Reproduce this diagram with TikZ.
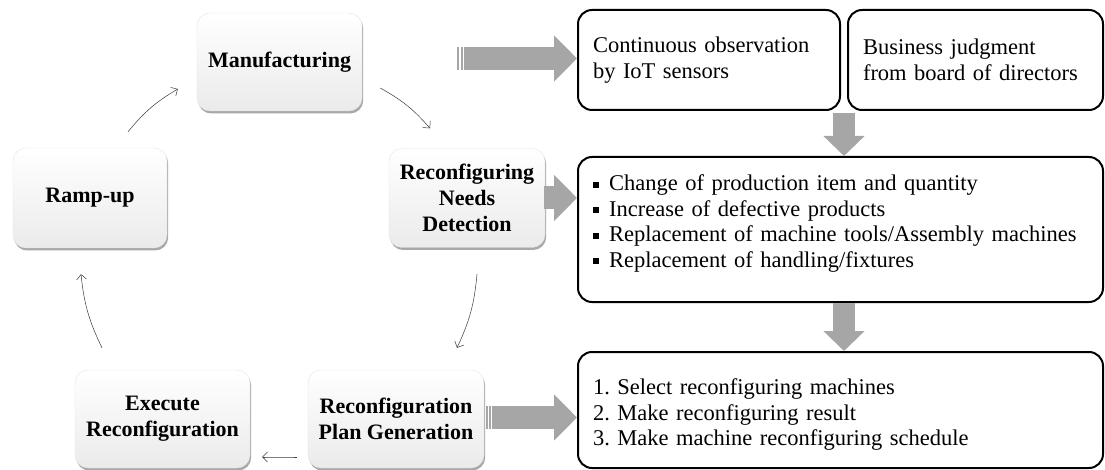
\documentclass[tikz,border=0pt]{standalone}
\usepackage{fontspec}
\setmainfont{Liberation Serif}
\usetikzlibrary{shadows,arrows.meta,calc}
\frenchspacing

\begin{document}
\begin{tikzpicture}[x=1pt,y=-1pt,
  cyc/.style={rounded corners=13pt, draw=gray!22, line width=0.4pt,
    top color=white, bottom color=gray!16,
    drop shadow={shadow xshift=1.2pt, shadow yshift=-2.5pt, opacity=0.55, fill=gray!75!black},
    align=center, inner sep=0pt,
    font=\fontsize{22}{26}\selectfont\bfseries},
  infobox/.style={rounded corners=14pt, draw=black, line width=2pt, fill=white,
    align=left, inner xsep=15pt, inner ysep=0pt,
    font=\fontsize{22.5}{25.5}\selectfont},
  cycarrow/.style={draw=gray!45!black, line width=0.5pt,
    -{Straight Barb[length=5pt,width=10pt]}, bend left=10},
  bigarrow/.style={draw=gray!70, line width=23pt,
    -{Triangle[length=23pt,width=45pt]}},
  downarrow/.style={draw=gray!70, line width=22pt,
    -{Triangle[length=20pt,width=40pt]}},
  stripe/.style={fill=gray!70}
]
\useasboundingbox (0,0) rectangle (1105,470);

% process cycle
\node[cyc, minimum width=165pt, minimum height=98pt]  (mfg)   at (279.5,62)  {Manufacturing};
\node[cyc, minimum width=156pt, minimum height=99pt]  (needs) at (467,198)   {Reconfiguring\\Needs\\Detection};
\node[cyc, minimum width=176pt, minimum height=98pt]  (plan)  at (396,419)   {Reconfiguration\\Plan Generation};
\node[cyc, minimum width=175pt, minimum height=98pt]  (exec)  at (162.5,419) {Execute\\Reconfiguration};
\node[cyc, minimum width=154pt, minimum height=100pt] (ramp)  at (90,198)    {Ramp-up};

% information boxes
\node[infobox, minimum width=262pt, minimum height=100pt, text width=232pt] (obs) at (709,60)
  {Continuous observation\\by IoT sensors};
\node[infobox, minimum width=255pt, minimum height=100pt, text width=225pt] (biz) at (975.5,60)
  {Business judgment\\from board of directors};
\newcommand{\sqbullet}{\raisebox{0.28ex}{\rule{0.27em}{0.27em}}\hspace{0.45em}}
\node[infobox, minimum width=525pt, minimum height=145pt, text width=495pt] (needsbox) at (840.5,229.5)
  {\sqbullet Change of production item and quantity\\
   \sqbullet Increase of defective products\\
   \sqbullet Replacement of machine tools/Assembly machines\\
   \sqbullet Replacement of handling/fixtures\rule[-17pt]{0pt}{0pt}};
\node[infobox, minimum width=525pt, minimum height=116pt, text width=495pt] (planbox) at (840.5,410)
  {\rule{0pt}{25pt}1. Select reconfiguring machines\\
   2. Make reconfiguring result\\
   3. Make machine reconfiguring schedule};

% cycle connectors
\draw[cycarrow] ([shift={(18,26)}]mfg.east)     to ([shift={(-37,-20)}]needs.north);
\draw[cycarrow] ([shift={(10,26.5)}]needs.south) to ([shift={(61,-22)}]plan.north);
\draw[cycarrow, bend left=0] ([shift={(-11,38)}]plan.west) to ([shift={(12,38)}]exec.east);
\draw[cycarrow] ([shift={(-60.5,-22)}]exec.north) to ([shift={(-9,26)}]ramp.south);
\draw[cycarrow] ([shift={(38,-16)}]ramp.north)   to ([shift={(-19,27)}]mfg.west);

% block arrows
\coordinate (a1) at ([shift={(102,-3.5)}]mfg.east);
\fill[stripe] ([shift={(-7,-11.5)}]a1) rectangle ([shift={(-5,11.5)}]a1);
\fill[stripe] ([shift={(-3.5,-11.5)}]a1) rectangle ([shift={(-1.5,11.5)}]a1);
\draw[bigarrow] (a1) -- (a1 -| obs.west);

\draw[bigarrow] ([xshift=-1pt]needs.east) -- (needs.east -| needsbox.west);

\coordinate (a3) at ([shift={(8,-1.5)}]plan.east);
\fill[stripe] ([shift={(-6,-11.5)}]a3) rectangle ([shift={(-4,11.5)}]a3);
\fill[stripe] ([shift={(-3,-11.5)}]a3) rectangle ([shift={(-1,11.5)}]a3);
\draw[bigarrow] (a3) -- (a3 -| planbox.west);

\coordinate (gap) at ($(obs.south east)!0.5!(biz.south west)$);
\draw[downarrow] ([yshift=-2pt]gap) -- (gap |- needsbox.north);
\draw[downarrow] (gap |- needsbox.south) -- (gap |- planbox.north);
\end{tikzpicture}
\end{document}
